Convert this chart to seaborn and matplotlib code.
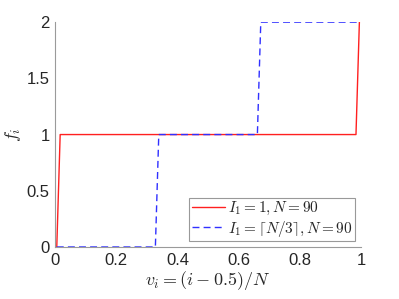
import pandas as pd
import seaborn as sns
import matplotlib
matplotlib.use("Agg")
import matplotlib.pyplot as plt
from matplotlib.ticker import FuncFormatter

# corner points of the two step curves, v_i on x, f_i on y
red_v = [0.0056, 0.0167, 0.9833, 0.9944]
red_f = [0, 1, 1, 2]
blue_v = [0.0056, 0.3278, 0.3389, 0.6611, 0.6722, 0.9944]
blue_f = [0, 0, 1, 1, 2, 2]
red_label = r'$I_1 = 1, N = 90$'
blue_label = r'$I_1 = \lceil N/3 \rceil, N = 90$'

sns.set_style("white")
plt.rcParams['font.family'] = ['Liberation Sans', 'DejaVu Sans']
plt.rcParams['mathtext.fontset'] = 'cm'

df_red = pd.DataFrame({'v': red_v, 'f': red_f})
df_blue = pd.DataFrame({'v': blue_v, 'f': blue_f})

fig = plt.figure(figsize=(3.99, 2.99), dpi=100)
ax = fig.add_axes([0.138, 0.174, 0.767, 0.752])

sns.lineplot(data=df_red, x='v', y='f', sort=False, color='#ff2020', lw=1.0,
             label=red_label, ax=ax)
sns.lineplot(data=df_blue, x='v', y='f', sort=False, color='#3030ff', lw=1.0,
             dashes=False, label=blue_label, ax=ax)
ax.lines[1].set_dashes([5, 3])

ax.set_xlim(0, 1)
ax.set_ylim(0, 2)
ax.set_xticks([0, 0.2, 0.4, 0.6, 0.8, 1])
ax.set_yticks([0, 0.5, 1, 1.5, 2])
fmt = FuncFormatter(lambda val, pos: '%g' % val)
ax.xaxis.set_major_formatter(fmt)
ax.yaxis.set_major_formatter(fmt)
ax.tick_params(direction='in', length=3, width=0.6, color='#808080',
               labelsize=12, labelcolor='#262626', pad=4)
for side in ['top', 'right']:
    ax.spines[side].set_visible(False)
for side in ['left', 'bottom']:
    ax.spines[side].set_color('#9a9a9a')
    ax.spines[side].set_linewidth(0.8)

ax.set_xlabel(r'$v_i = (i - 0.5)/N$', fontsize=13, color='#262626', labelpad=1)
ax.set_ylabel(r'$f_i$', fontsize=13, color='#262626')
ax.yaxis.set_label_coords(-0.105, 0.5)

leg = ax.legend(loc='lower right', fontsize=11, frameon=True, fancybox=False,
                borderpad=0.15, handlelength=2.2, handletextpad=0.2,
                labelspacing=0.1, borderaxespad=0.4)
leg.get_frame().set_edgecolor('#808080')
leg.get_frame().set_linewidth(0.8)

fig.savefig('out.png', dpi=100)
